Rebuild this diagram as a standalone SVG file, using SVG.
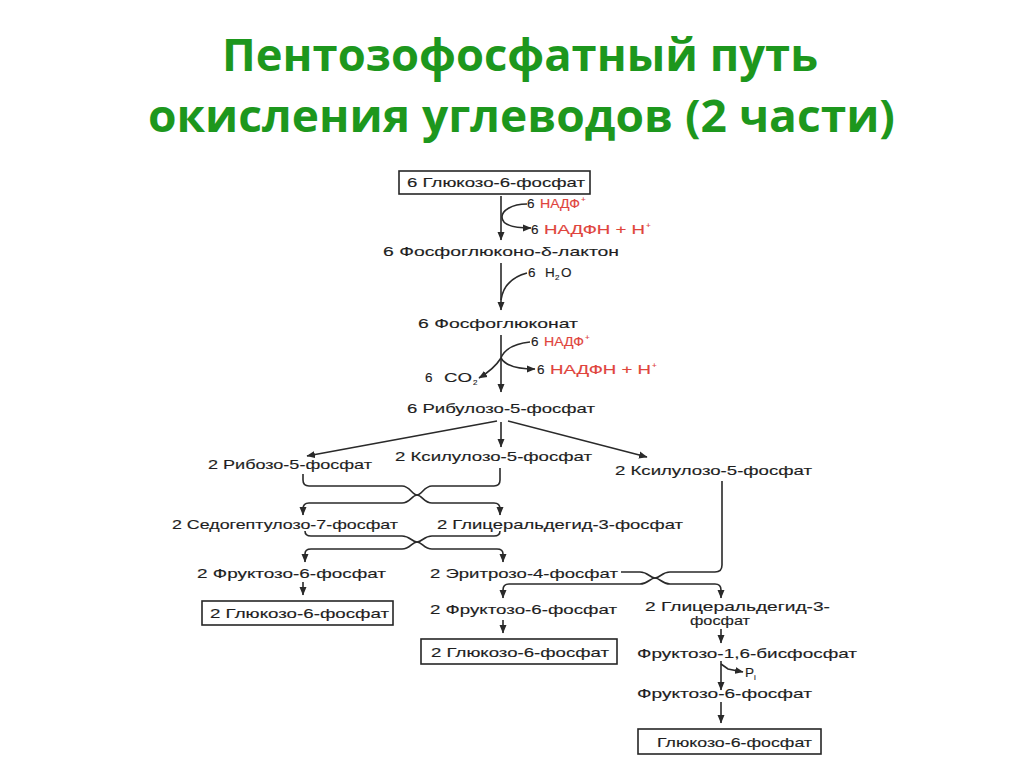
<svg xmlns="http://www.w3.org/2000/svg" width="1024" height="767" viewBox="0 0 1024 767">
<style>
.t{font-family:"Liberation Sans",Arial,sans-serif;font-size:13.5px;fill:#1e1e1e;stroke:#1e1e1e;stroke-width:0.15}
.r{fill:#e0443c;stroke:#e0443c}
.title{font-family:"Open Sans","Noto Sans",sans-serif;font-weight:700;font-size:44px;fill:#1d971d}
.box{fill:#fff;stroke:#262626;stroke-width:1.6}
.c{fill:none;stroke:#2a2a2a;stroke-width:1.6}
.sup{font-size:8px}
</style>
<defs>
<marker id="ah" markerWidth="9" markerHeight="8" refX="8" refY="4" orient="auto" markerUnits="userSpaceOnUse">
<path d="M0,0.5 L8.5,4 L0,7.5 Z" fill="#2a2a2a"/>
</marker>
</defs>
<rect width="1024" height="767" fill="#fff"/>
<g id="title">
<text class="title" x="222" y="71" textLength="596" lengthAdjust="spacingAndGlyphs">Пентозофосфатный путь</text>
<text class="title" x="148" y="132" textLength="747" lengthAdjust="spacingAndGlyphs">окисления углеводов (2 части)</text>
</g>
<g id="connectors">
<path class="c" d="M501 196 V240" marker-end="url(#ah)"/>
<path class="c" d="M527 204 C511 204 502 211 502 217 C502 224 511 228 531 228" marker-end="url(#ah)"/>
<path class="c" d="M501 263 V310" marker-end="url(#ah)"/>
<path class="c" d="M527 273 C512 277 503 286 501 300"/>
<path class="c" d="M501 335 V392" marker-end="url(#ah)"/>
<path class="c" d="M530 342 C513 344 504 350 501 358"/>
<path class="c" d="M501 358 C505 365 514 369 535 369" marker-end="url(#ah)"/>
<path class="c" d="M501 358 C496 366 489 372 479 378" marker-end="url(#ah)"/>
<path class="c" d="M497 421 L307 456" marker-end="url(#ah)"/>
<path class="c" d="M501 422 V447" marker-end="url(#ah)"/>
<path class="c" d="M508 421 L647 457" marker-end="url(#ah)"/>
<path class="c" d="M303 474 V480 Q303 486 309 486 H402 C410 486 412 495 417 495 C422 495 424 503 432 503 H494 Q500 503 500 509 V515" marker-end="url(#ah)"/>
<path class="c" d="M500 468 V480 Q500 486 494 486 H432 C424 486 422 495 417 495 C412 495 410 503 402 503 H309 Q303 503 303 509 V515" marker-end="url(#ah)"/>
<path class="c" d="M305 531 Q305 536 311 536 H402 C410 536 412 542 417 542 C422 542 424 549 432 549 H497 Q503 549 503 554 V562" marker-end="url(#ah)"/>
<path class="c" d="M500 531 Q500 536 494 536 H432 C424 536 422 542 417 542 C412 542 410 549 402 549 H311 Q305 549 305 554 V562" marker-end="url(#ah)"/>
<path class="c" d="M303 582 V595" marker-end="url(#ah)"/>
<path class="c" d="M722 481 V565 Q722 572 715 572 H670 C662 572 660 578 655 578 C650 578 648 584 640 584 H509 Q503 584 503 590 V598" marker-end="url(#ah)"/>
<path class="c" d="M621 572 H640 C648 572 650 578 655 578 C660 578 662 584 670 584 H715 Q721 584 721 590 V598" marker-end="url(#ah)"/>
<path class="c" d="M503 620 V633" marker-end="url(#ah)"/>
<path class="c" d="M721 629 V643" marker-end="url(#ah)"/>
<path class="c" d="M721 661 V690" marker-end="url(#ah)"/>
<path class="c" d="M721 664 L728 669 L743 672" marker-end="url(#ah)"/>
<path class="c" d="M721 702 V723" marker-end="url(#ah)"/>
</g>
<g id="n-g6p-top">
<rect class="box" x="399" y="171" width="191" height="23"/>
<text class="t" x="407" y="187" textLength="178" lengthAdjust="spacingAndGlyphs">6 Глюкозо-6-фосфат</text>
</g>
<g id="n-nadp1">
<text class="t" x="527" y="208">6</text>
<text class="t r" x="540" y="208" textLength="40" lengthAdjust="spacingAndGlyphs">НАДФ</text>
<text class="t r sup" x="581" y="202">+</text>
</g>
<g id="n-nadph1">
<text class="t" x="531" y="234">6</text>
<text class="t r" x="544" y="234" textLength="101" lengthAdjust="spacingAndGlyphs">НАДФН  +  Н</text>
<text class="t r sup" x="646" y="228">+</text>
</g>
<g id="n-lactone"><text class="t" x="383" y="256" textLength="236" lengthAdjust="spacingAndGlyphs">6  Фосфоглюконо-δ-лактон</text></g>
<g id="n-h2o">
<text class="t" x="528" y="277">6</text>
<text class="t" x="545" y="277">H</text>
<text class="t sup" x="555" y="280">2</text>
<text class="t" x="561" y="277">O</text>
</g>
<g id="n-6pg"><text class="t" x="418" y="328" textLength="160" lengthAdjust="spacingAndGlyphs">6  Фосфоглюконат</text></g>
<g id="n-nadp2">
<text class="t" x="531" y="346">6</text>
<text class="t r" x="544" y="346" textLength="40" lengthAdjust="spacingAndGlyphs">НАДФ</text>
<text class="t r sup" x="585" y="340">+</text>
</g>
<g id="n-nadph2">
<text class="t" x="537" y="374">6</text>
<text class="t r" x="550" y="374" textLength="101" lengthAdjust="spacingAndGlyphs">НАДФН  +  Н</text>
<text class="t r sup" x="652" y="368">+</text>
</g>
<g id="n-co2">
<text class="t" x="425" y="382">6</text>
<text class="t" x="444" y="382" textLength="28" lengthAdjust="spacingAndGlyphs">CO</text>
<text class="t sup" x="473" y="385">2</text>
</g>
<g id="n-ru5p"><text class="t" x="407" y="413" textLength="188" lengthAdjust="spacingAndGlyphs">6 Рибулозо-5-фосфат</text></g>
<g id="n-r5p"><text class="t" x="208" y="469" textLength="164" lengthAdjust="spacingAndGlyphs">2 Рибозо-5-фосфат</text></g>
<g id="n-xu5p-a"><text class="t" x="395" y="461" textLength="197" lengthAdjust="spacingAndGlyphs">2 Ксилулозо-5-фосфат</text></g>
<g id="n-xu5p-b"><text class="t" x="615" y="475" textLength="197" lengthAdjust="spacingAndGlyphs">2 Ксилулозо-5-фосфат</text></g>
<g id="n-s7p"><text class="t" x="172" y="529" textLength="226" lengthAdjust="spacingAndGlyphs">2 Седогептулозо-7-фосфат</text></g>
<g id="n-g3p-a"><text class="t" x="437" y="529" textLength="246" lengthAdjust="spacingAndGlyphs">2 Глицеральдегид-3-фосфат</text></g>
<g id="n-f6p-a"><text class="t" x="197" y="578" textLength="189" lengthAdjust="spacingAndGlyphs">2 Фруктозо-6-фосфат</text></g>
<g id="n-e4p"><text class="t" x="430" y="578" textLength="188" lengthAdjust="spacingAndGlyphs">2 Эритрозо-4-фосфат</text></g>
<g id="n-g6p-left">
<rect class="box" x="202" y="601" width="191" height="24"/>
<text class="t" x="210" y="618" textLength="179" lengthAdjust="spacingAndGlyphs">2 Глюкозо-6-фосфат</text>
</g>
<g id="n-f6p-b"><text class="t" x="430" y="614" textLength="187" lengthAdjust="spacingAndGlyphs">2 Фруктозо-6-фосфат</text></g>
<g id="n-g3p-b">
<text class="t" x="645" y="611" textLength="185" lengthAdjust="spacingAndGlyphs">2 Глицеральдегид-3-</text>
<text class="t" x="690" y="625" textLength="60" lengthAdjust="spacingAndGlyphs">фосфат</text>
</g>
<g id="n-g6p-mid">
<rect class="box" x="421" y="639" width="196" height="25"/>
<text class="t" x="431" y="657" textLength="178" lengthAdjust="spacingAndGlyphs">2 Глюкозо-6-фосфат</text>
</g>
<g id="n-fbp"><text class="t" x="637" y="658" textLength="220" lengthAdjust="spacingAndGlyphs">Фруктозо-1,6-бисфосфат</text></g>
<g id="n-pi">
<text class="t" x="745" y="677">P</text>
<text class="t sup" x="754" y="680">i</text>
</g>
<g id="n-f6p-c"><text class="t" x="637" y="698" textLength="175" lengthAdjust="spacingAndGlyphs">Фруктозо-6-фосфат</text></g>
<g id="n-g6p-right">
<rect class="box" x="638" y="729" width="183" height="25"/>
<text class="t" x="657" y="747" textLength="155" lengthAdjust="spacingAndGlyphs">Глюкозо-6-фосфат</text>
</g>
</svg>
